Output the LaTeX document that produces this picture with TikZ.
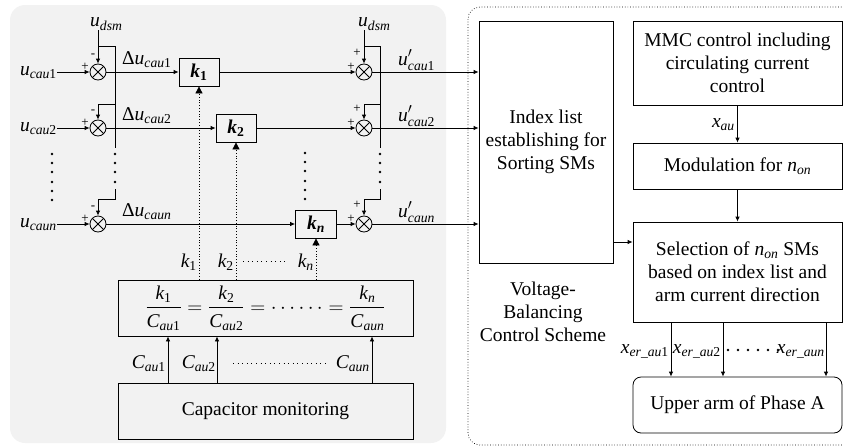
\documentclass[tikz,border=0pt]{standalone}
\usepackage{amsmath}
\usepackage{fontspec}
\setmainfont{Liberation Serif}
\usetikzlibrary{arrows.meta}
\tikzset{
  blk/.style={draw,line width=0.8pt,inner sep=2pt,align=center},
  sj/.style={draw,circle,line width=0.8pt,minimum size=16pt,inner sep=0pt,
    path picture={\draw[line width=0.8pt] (path picture bounding box.north west) -- (path picture bounding box.south east)
      (path picture bounding box.south west) -- (path picture bounding box.north east);}},
  ln/.style={line width=0.8pt},
  ar/.style={line width=0.8pt,-{Latex[length=5pt,width=4.5pt]}},
  dar/.style={line width=0.8pt,dotted,-{Triangle[length=7pt,width=7pt]}},
  dts/.style={line width=1pt,dash pattern=on 1pt off 3.6pt},
  lbl/.style={inner sep=0pt},
  sgn/.style={inner sep=0pt,font=\fontsize{13}{13}\selectfont}
}
\newcommand{\vsym}[3]{\ensuremath{\text{\itshape #1}_{\text{\itshape #2}\text{#3}}}}
\newcommand{\vpr}[3]{\ensuremath{\text{\itshape #1}'_{\text{\itshape #2}\text{#3}}}}
\newcommand{\kb}[1]{\ensuremath{\text{\bfseries\itshape k}_{\text{\bfseries #1}}}}

\begin{document}
\begin{tikzpicture}[x=1pt,y=-1pt,font=\fontsize{19.5}{23}\selectfont]
\useasboundingbox (0,0) rectangle (843,447);
% background panels
\fill[black!5,rounded corners=15pt] (10,5) rectangle (446,443);
\draw[dotted,line width=0.7pt,rounded corners=12pt] (468,7) rectangle (880,445);

% summing junctions and gains
\node[sj] (sl1) at (98,72) {};
\node[sj] (sl2) at (98,128) {};
\node[sj] (sln) at (98,224) {};
\node[sj] (sr1) at (364,72) {};
\node[sj] (sr2) at (364,128) {};
\node[sj] (srn) at (364,224) {};
\node[blk,minimum width=40pt,minimum height=28pt] (k1) at (199,72) {\kb{1}};
\node[blk,minimum width=40pt,minimum height=28pt] (k2) at (236,128) {\kb{2}};
\node[blk,minimum width=41pt,minimum height=28pt] (kn) at (316,224) {\kb{\itshape n}};
\node[blk,minimum width=134pt,minimum height=242pt] (idx) at (546,142) {Index list\\establishing for\\Sorting SMs};
\foreach \y in {72,128,224} {
  \node[sgn] (ma\y) at (93,\y-16) {-};
  \node[sgn] (pa\y) at (85,\y-5) {+};
  \node[sgn] (pb\y) at (357,\y-19) {+};
  \node[sgn] (pc\y) at (351,\y-5) {+};
}

% inputs and outputs
\node[lbl,anchor=base east] (u1) at (57,75) {\vsym{u}{cau}{1}};
\node[lbl,anchor=base east] (u2) at (57,131) {\vsym{u}{cau}{2}};
\node[lbl,anchor=base east] (un) at (57,227) {\vsym{u}{caun}{}};
\node[lbl,anchor=base west] (d1) at (122,64) {Δ\vsym{u}{cau}{1}};
\node[lbl,anchor=base west] (d2) at (122,120) {Δ\vsym{u}{cau}{2}};
\node[lbl,anchor=base west] (dn) at (122,216) {Δ\vsym{u}{caun}{}};
\node[lbl,anchor=base west] (v1) at (398,65) {\vpr{u}{cau}{1}};
\node[lbl,anchor=base west] (v2) at (398,121) {\vpr{u}{cau}{2}};
\node[lbl,anchor=base west] (vn) at (398,217) {\vpr{u}{caun}{}};
\node[lbl,anchor=base west] (dl) at (90,27) {\vsym{u}{dsm}{}};
\node[lbl,anchor=base west] (dr) at (358,27) {\vsym{u}{dsm}{}};

\draw[ar] (u1.east |- sl1) -- (sl1.west);
\draw[ar] (u2.east |- sl2) -- (sl2.west);
\draw[ar] (un.east |- sln) -- (sln.west);
\draw[ar] (sl1) -- (k1);
\draw[ar] (sl2) -- (k2);
\draw[ar] (sln) -- (kn);
\draw[ar] (k1) -- (sr1);
\draw[ar] (k2) -- (sr2);
\draw[ar] (kn) -- (srn);
\draw[ar] (sr1) -- (sr1 -| idx.west);
\draw[ar] (sr2) -- (sr2 -| idx.west);
\draw[ar] (srn) -- (srn -| idx.west);

% u_dsm feedback buses
\draw[ar] (sl1 |- dl.south) -- (sl1.north);
\draw[ar] (sr1 |- dr.south) -- (sr1.north);
\coordinate (bl0) at (98,46);
\coordinate (bl1) at (115,148);
\coordinate (bl2) at (115,189);
\coordinate (br0) at (364,46);
\coordinate (br1) at (380,148);
\coordinate (br2) at (380,189);
\draw[ln] (bl0) -| (bl1);
\draw[ln] (br0) -| (br1);
\draw[ar] (bl1 |- 0,104) -| (sl2.north);
\draw[ar] (br1 |- 0,104) -| (sr2.north);
\draw[ar] (bl2) -- ++(0,10) -| (sln.north);
\draw[ar] (br2) -- ++(0,10) -| (srn.north);
\foreach \y in {154,163,172,182} {
  \fill (115,\y) circle (1.4pt);
  \fill (380,\y) circle (1.4pt);
}
\foreach \y in {154,163,172,182,191,200} {
  \fill (52,\y) circle (1.4pt);
  \fill (305,\y-1) circle (1.4pt);
}

% gain ratio and capacitor monitoring
\node[blk,minimum width=295pt,minimum height=56pt] (ratio) at (265.5,308)
  {$\dfrac{\vsym{k}{}{1}}{\vsym{C}{au}{1}}=\dfrac{\vsym{k}{}{2}}{\vsym{C}{au}{2}}=\cdots\cdots=\dfrac{\vsym{k}{n}{}}{\vsym{C}{aun}{}}$};
\node[blk,minimum width=295pt,minimum height=56pt] (cap) at (265.5,411) {Capacitor monitoring};
\node[lbl,anchor=base east] (kl1) at (197,267) {\vsym{k}{}{1}};
\node[lbl,anchor=base east] (kl2) at (234,267) {\vsym{k}{}{2}};
\node[lbl,anchor=base east] (kln) at (314,267) {\vsym{k}{n}{}};
\draw[dts] ([xshift=9pt]kl2.east) -- ([xshift=-9pt]kln.west);
\draw[dar] (ratio.north -| k1) -- (k1.south);
\draw[dar] (ratio.north -| k2) -- (k2.south);
\draw[dar] (ratio.north -| kn) -- (kn.south);
\foreach \x in {168,217,372}
  \draw[ar] (cap.north -| \x,0) -- (ratio.south -| \x,0);
\node[lbl,anchor=base east] (cl1) at (166,368) {\vsym{C}{au}{1}};
\node[lbl,anchor=base east] (cl2) at (216,368) {\vsym{C}{au}{2}};
\node[lbl,anchor=base east] (cln) at (370,368) {\vsym{C}{aun}{}};
\draw[dts] ([xshift=17pt]cl2.east) -- ([xshift=-10pt]cln.west);

% voltage-balancing control scheme
\node[align=center] (vbcs) at (543,312) {Voltage-\\Balancing\\Control Scheme};
\node[blk,minimum width=209pt,minimum height=84pt] (mmc) at (737.5,63) {MMC control including\\circulating current\\control};
\node[blk,minimum width=209pt,minimum height=46pt] (mod) at (737.5,166) {Modulation for \vsym{n}{on}{}};
\node[blk,minimum width=209pt,minimum height=100pt] (sel) at (737.5,272) {Selection of \vsym{n}{on}{} SMs\\based on index list and\\arm current direction};
\node[blk,rounded corners=8pt,minimum width=209pt,minimum height=56pt] (upa) at (737.5,405) {Upper arm of Phase A};
\draw[ar] (mmc) -- (mod);
\node[lbl,anchor=base east] (xau) at (735,127) {\vsym{x}{au}{}};
\draw[ar] (mod) -- (sel);
\coordinate (isel) at (613,242);
\draw[ar] (isel) -- (isel -| sel.west);
\foreach \x in {671,723,826}
  \draw[ar] (sel.south -| \x,0) -- (upa.north -| \x,0);
\node[lbl,anchor=base east] (xe1) at (669,353) {\vsym{x}{er\_au}{1}};
\node[lbl,anchor=base east] (xe2) at (721,353) {\vsym{x}{er\_au}{2}};
\node[lbl,anchor=base east] (xen) at (825,353) {\vsym{x}{er\_aun}{}};
\foreach \x in {728,738,...,778}
  \fill (\x,350) circle (1.4pt);
\end{tikzpicture}
\end{document}
